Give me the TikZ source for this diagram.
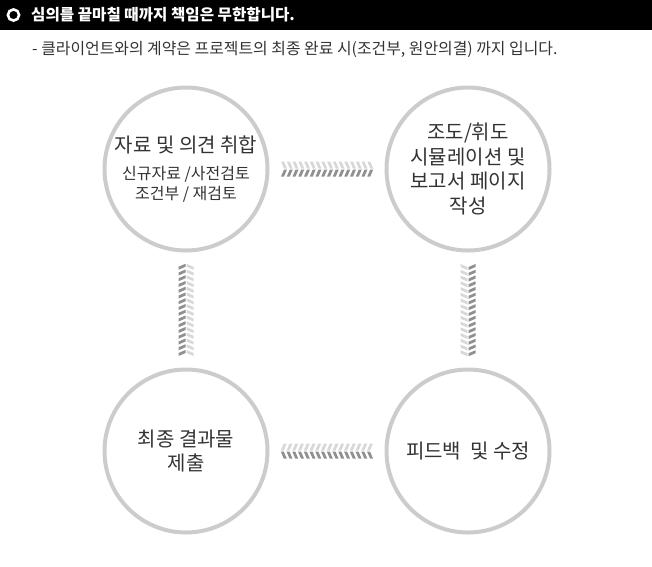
\documentclass[tikz,border=0pt]{standalone}
\usepackage{fontspec}
\setmainfont{Noto Sans CJK KR}
\usetikzlibrary{calc}
\definecolor{ringgray}{HTML}{CCCCCC}
\definecolor{txtgray}{HTML}{333333}
\definecolor{chevlight}{HTML}{D8D8D8}
\definecolor{chevdark}{HTML}{909090}
\newcommand\subtxt[1]{{\fontsize{16}{19}\selectfont #1}}
\tikzset{
  stage/.style={circle,draw=ringgray,line width=4pt,minimum size=163pt,inner sep=0pt,
                align=center,text=txtgray,font=\fontsize{20}{24.5}\selectfont},
  pics/chevbar/.style 2 args={code={
    \foreach \i in {0,...,15}{
      \fill[#1] ({-46+\i*5.75},7.5) -- ++(3,0) -- ++(3,-7) -- ++(-3,0) -- cycle;
      \fill[#2] ({-43+\i*5.75},-0.5) -- ++(3,0) -- ++(-3,-7) -- ++(-3,0) -- cycle;
    }
  }},
}
\begin{document}
\begin{tikzpicture}[x=1pt,y=1pt]
  \useasboundingbox (0,0) rectangle (652,-566);
  % title bar
  \fill[black] (0,0) rectangle (652,-30);
  \draw[white,line width=2.6pt] (13.5,-15) coordinate (ring) circle (5.6);
  \node[anchor=west,text=white,font=\fontsize{15.6}{18}\selectfont\bfseries,inner sep=0pt] (head) at (31,-15)
    {심의를 끝마칠 때까지 책임은 무한합니다.};
  \node[anchor=west,text=txtgray,font=\fontsize{15.9}{18}\selectfont,inner sep=0pt] (note) at (32,-49)
    {- 클라이언트와의 계약은 프로젝트의 최종 완료 시(조건부, 원안의결) 까지 입니다.};
  % stages
  \node[stage] (gather) at (186,-169) {자료 및 의견 취합\\[3pt]\subtxt{신규자료 /사전검토}\\[-5pt]\subtxt{조건부 / 재검토}};
  \node[stage] (simul) at (468,-169) {조도/휘도\\시뮬레이션 및\\보고서 페이지\\작성};
  \node[stage] (revise) at (468,-451) {피드백\ \ 및 수정};
  \node[stage] (submit) at (186,-451) {최종 결과물\\제출};
  % chevron connectors
  \pic at ($(gather)!0.5!(simul)$) {chevbar={chevlight}{chevdark}};
  \pic[rotate=-90] at ($(simul)!0.5!(revise)$) {chevbar={chevdark}{chevlight}};
  \pic[xscale=-1] at ($(revise)!0.5!(submit)$) {chevbar={chevlight}{chevdark}};
  \pic[rotate=90] at ($(submit)!0.5!(gather)$) {chevbar={chevdark}{chevlight}};
\end{tikzpicture}
\end{document}
